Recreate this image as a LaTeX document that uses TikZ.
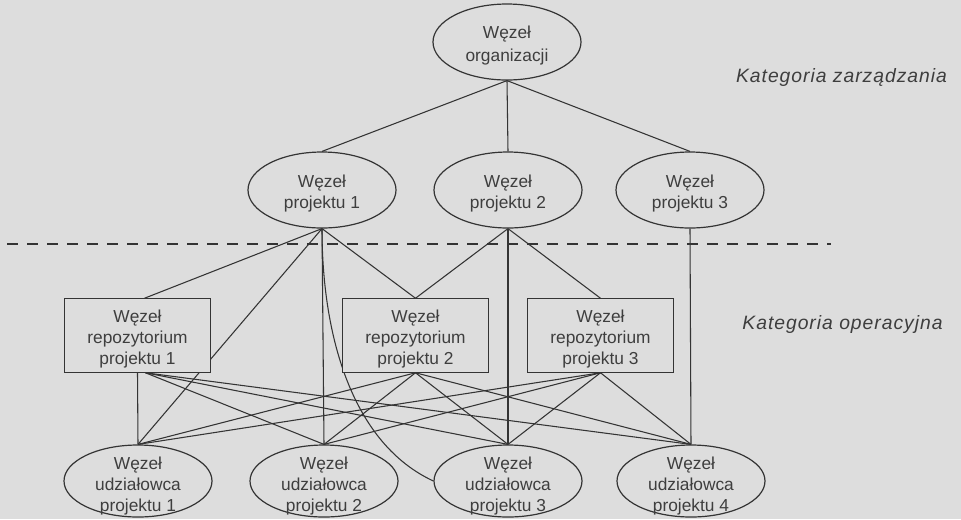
\documentclass[tikz,border=0pt]{standalone}
\usepackage{fontspec}
\setmainfont{Liberation Sans}
\newfontfamily\catfont[LetterSpace=5]{Liberation Sans}
\usetikzlibrary{shapes.geometric,calc}
\definecolor{paper}{RGB}{221,221,221}
\definecolor{ink}{RGB}{52,52,52}
\definecolor{txtc}{RGB}{62,62,62}
\pgfdeclarelayer{back}
\pgfdeclarelayer{wires}
\pgfsetlayers{back,wires,main}
\begin{document}
\begin{tikzpicture}[x=0.75pt,y=-0.75pt,
  oval/.style={ellipse,draw=ink,fill=paper,line width=0.9pt,inner sep=0pt,
    minimum width=111pt,minimum height=57pt},
  lowoval/.style={oval,minimum height=54pt},
  repo/.style={rectangle,draw=ink,fill=paper,line width=0.9pt,inner sep=0pt,
    minimum width=110pt,minimum height=55pt},
  lbl/.style={align=center,inner sep=0pt,text=txtc,
    font=\fontsize{13}{15.75}\selectfont},
  cat/.style={inner sep=0pt,text=txtc,anchor=base,
    font=\catfont\itshape\fontsize{14.5}{17}\selectfont},
  wire/.style={draw=ink,line width=0.8pt},
  divider/.style={draw=ink,line width=0.9pt,dash pattern=on 8.25pt off 6.75pt}]

% paper
\begin{pgfonlayer}{back}
  \path[use as bounding box,fill=paper] (0,0) rectangle (961,519);
\end{pgfonlayer}

% management level
\node[oval] (org) at (507,42) {};
\node[lbl,font=\fontsize{13}{17.25}\selectfont] (org-t) at (507,46) {Węzeł\\organizacji};

\node[oval] (p1) at (322,190) {};
\node[oval] (p2) at (508,190) {};
\node[oval] (p3) at (690,190) {};
\node[lbl] (p1-t) at (322,193.5) {Węzeł\\projektu 1};
\node[lbl] (p2-t) at (508,193.5) {Węzeł\\projektu 2};
\node[lbl] (p3-t) at (690,193.5) {Węzeł\\projektu 3};

% operational level: repositories
\node[repo] (r1) at (137.5,335.5) {};
\node[repo] (r2) at (415.5,335.5) {};
\node[repo] (r3) at (600.5,335.5) {};
\node[lbl] (r1-t) at (137.5,339.5) {Węzeł\\repozytorium\\projektu 1};
\node[lbl] (r2-t) at (415.5,339.5) {Węzeł\\repozytorium\\projektu 2};
\node[lbl] (r3-t) at (600.5,339.5) {Węzeł\\repozytorium\\projektu 3};

% operational level: stakeholders
\node[lowoval] (s1) at (138,481) {};
\node[lowoval] (s2) at (324,481) {};
\node[lowoval] (s3) at (508,481) {};
\node[lowoval] (s4) at (691,481) {};
\node[lbl] (s1-t) at (138,486.5) {Węzeł\\udziałowca\\projektu 1};
\node[lbl] (s2-t) at (324,486.5) {Węzeł\\udziałowca\\projektu 2};
\node[lbl] (s3-t) at (508,486.5) {Węzeł\\udziałowca\\projektu 3};
\node[lbl] (s4-t) at (691,486.5) {Węzeł\\udziałowca\\projektu 4};

% category captions
\node[cat] (cat-m) at (841.5,82) {Kategoria zarządzania};
\node[cat] (cat-o) at (842.5,329) {Kategoria operacyjna};

% ports on the repository boxes
\coordinate (r1-top) at ($(r1.north)+(7,0)$);
\coordinate (r1-bot) at ($(r1.south)+(8,0)$);

% divider between the two categories
\coordinate (dl) at (7,244);
\coordinate (dr) at (831,244);

\begin{pgfonlayer}{wires}
  \path[divider] (dl) -- (dr);

  % organisation to projects
  \path[wire] (org.south) -- (p1.north);
  \path[wire] (org.south) -- (p2.north);
  \path[wire] (org.south) -- (p3.north);

  % projects to operational nodes
  \path[wire] (p1.south) -- (r1-top);
  \path[wire] (p1.south) -- (s1.north);
  \path[wire] (p1.south) -- (r2.north);
  \path[wire] (p1.south) -- (s2.north);
  \path[wire] (p1.south) .. controls +(0,110) and +(-80,-37) .. (s3.west);
  \path[wire] (p2.south) -- (r2.north);
  \path[wire] (p2.south) -- (r3.north);
  \path[wire] (p2.south) -- (s3.north);
  \path[wire] (p3.south) -- (s4.north);

  % repositories to stakeholders
  \path[wire] (r1.south) -- (s1.north);
  \path[wire] (r1-bot) -- (s2.north);
  \path[wire] (r1-bot) -- (s3.north);
  \path[wire] (r1-bot) -- (s4.north);
  \path[wire] (r2.south) -- (s1.north);
  \path[wire] (r2.south) -- (s2.north);
  \path[wire] (r2.south) -- (s3.north);
  \path[wire] (r2.south) -- (s4.north);
  \path[wire] (r3.south) -- (s1.north);
  \path[wire] (r3.south) -- (s2.north);
  \path[wire] (r3.south) -- (s3.north);
  \path[wire] (r3.south) -- (s4.north);
\end{pgfonlayer}
\end{tikzpicture}
\end{document}
